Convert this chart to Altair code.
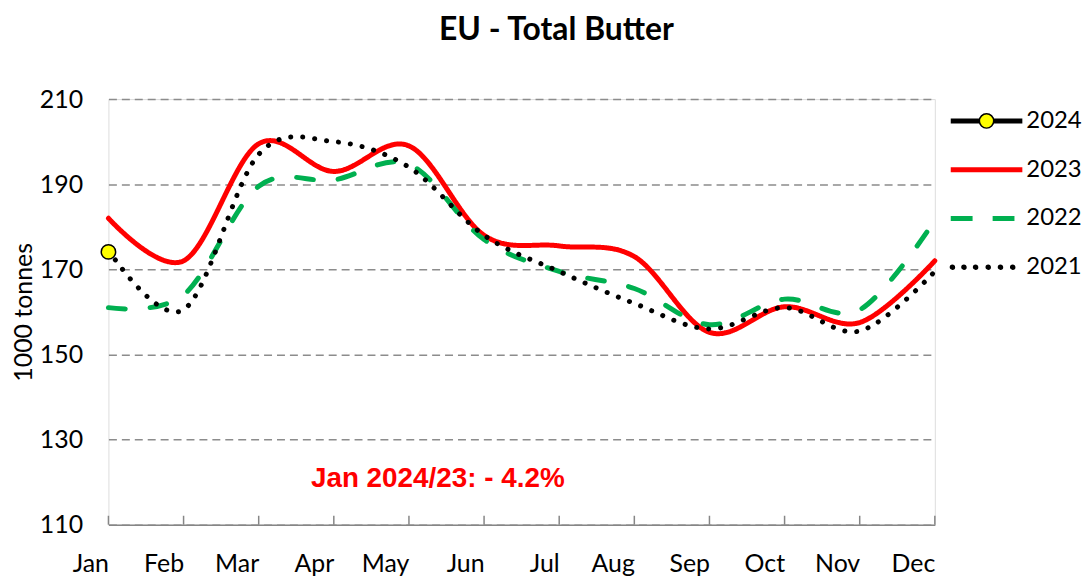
import altair as alt
import pandas as pd

# ---------------- data ----------------
months = ["Jan", "Feb", "Mar", "Apr", "May", "Jun", "Jul", "Aug", "Sep", "Oct", "Nov", "Dec"]
years = ["2024", "2023", "2022", "2021"]
line_years = ["2023", "2022", "2021"]
v2024 = [174.1]
v2023 = [182.0, 172.0, 199.5, 193.0, 199.0, 178.0, 175.5, 173.0, 155.2, 161.2, 157.5, 172.0]
v2022 = [161.0, 164.0, 189.5, 191.0, 194.7, 177.0, 169.5, 165.5, 157.0, 163.0, 160.5, 181.5]
v2021 = [174.5, 160.5, 197.0, 200.0, 194.0, 178.0, 169.5, 162.0, 156.0, 161.0, 155.5, 169.5]
y_ticks = [110, 130, 150, 170, 190, 210]
chart_title = "EU - Total Butter"
y_title = "1000 tonnes"
note_text = "Jan 2024/23: - 4.2%"

# ---------------- styles ----------------
stroke_colors = ["#000000", "#FF0000", "#00B050", "#000000"]
fill_colors = ["#FFFF00", "#FF0000", "#00B050", "#000000"]
line_colors = ["#FF0000", "#00B050", "#000000"]
line_dashes = [[1, 0], [17, 25], [0.1, 12]]
FONT = "Lato"
GRID = "#8C8C8C"


def hbar(x0, x1):
    return "".join(f"M{x0},{dy}L{x1},{dy}" for dy in (-0.05, -0.017, 0.017, 0.05))


def ring(cx, r):
    return f"M{cx - r},0A{r},{r} 0 1,0 {cx + r},0A{r},{r} 0 1,0 {cx - r},0Z"


legend_shapes = [
    hbar(-1, -0.2) + hbar(0.2, 1) + ring(0, 0.2),
    hbar(-1, 1),
    hbar(-1, -0.39) + hbar(0.17, 0.78),
    "".join(ring(c, 0.056) for c in (-0.953, -0.631, -0.306, 0.047, 0.389, 0.731)),
]

rows = []
for yr, vals in (("2023", v2023), ("2022", v2022), ("2021", v2021)):
    for m, v in zip(months, vals):
        rows.append({"year": yr, "month": m, "value": v})
lines_df = pd.DataFrame(rows)
p24_df = pd.DataFrame({"year": ["2024"] * len(v2024), "month": months[: len(v2024)], "value": v2024})
legend_df = pd.concat([p24_df, lines_df], ignore_index=True)

x_enc = alt.X(
    "month:N",
    sort=months,
    scale=alt.Scale(type="point", domain=months, padding=0),
    axis=alt.Axis(
        title=None, labelAngle=0, labelFont=FONT, labelFontSize=25, labelColor="black",
        tickSize=0, ticks=False, labelPadding=39, domainColor="#868686", domainWidth=1.5,
        grid=False,
    ),
)
y_enc = alt.Y(
    "value:Q",
    scale=alt.Scale(domain=[110, 210], nice=False, zero=False),
    axis=alt.Axis(
        title=y_title, values=y_ticks, titleFont=FONT, titleFontSize=25, titleFontWeight="normal",
        titleColor="black", titlePadding=3, labelFont=FONT, labelFontSize=25, labelColor="black",
        labelPadding=26, tickSize=0, ticks=False, domain=False, grid=True, gridColor=GRID,
        gridWidth=1.5, gridDash=[8, 5],
    ),
)

lines = alt.Chart(lines_df).mark_line(interpolate="cardinal", strokeWidth=5, strokeCap="round").encode(
    x=x_enc,
    y=y_enc,
    color=alt.Color("year:N", scale=alt.Scale(domain=line_years, range=line_colors), legend=None),
    strokeDash=alt.StrokeDash("year:N", scale=alt.Scale(domain=line_years, range=line_dashes), legend=None),
    detail="year:N",
)

point24 = alt.Chart(p24_df).mark_point(
    filled=True, shape="circle", size=210, fill="#FFFF00", stroke="#000000", strokeWidth=1.5, opacity=1
).encode(x=alt.X("month:N", sort=months), y="value:Q")

leg = alt.Legend(
    title=None, orient="none", legendX=846, legendY=-15, padding=0, labelFont=FONT,
    labelFontSize=24, labelColor="black", symbolSize=5184, symbolOpacity=1,
    symbolStrokeWidth=1.5, rowPadding=0, labelOffset=3,
)
legend_layer = alt.Chart(legend_df).mark_point(filled=True, opacity=0).encode(
    x=alt.X("month:N", sort=months),
    y="value:Q",
    fill=alt.Fill("year:N", scale=alt.Scale(domain=years, range=fill_colors), legend=leg),
    stroke=alt.Stroke("year:N", scale=alt.Scale(domain=years, range=stroke_colors), legend=leg),
    shape=alt.Shape("year:N", scale=alt.Scale(domain=years, range=legend_shapes), legend=leg),
)

ticks = alt.Chart(pd.DataFrame({"month": months})).mark_rule(color="#868686", strokeWidth=1.5).encode(
    x=alt.X("month:N", sort=months), y=alt.value(428), y2=alt.value(419)
)

note = alt.Chart(pd.DataFrame({"t": [note_text]})).mark_text(
    font="Liberation Sans", fontSize=28, fontWeight="bold", color="#FF0000",
    align="center", baseline="alphabetic", dx=29,
).encode(x=alt.datum("May"), y=alt.datum(118.9), text="t:N")

chart = alt.layer(ticks, lines, legend_layer, point24, note).properties(
    width=831,
    height=428,
    title=alt.Title(chart_title, font=FONT, fontSize=32, fontWeight="bold", color="black",
                    anchor="middle", dx=35, offset=37),
    autosize=alt.AutoSizeParams(type="none"),
    padding={"left": 101, "top": 90, "right": 150, "bottom": 53},
).configure_view(stroke=None).configure(background="white")

chart.save("out.html", embed_options={"renderer": "svg", "actions": False})
